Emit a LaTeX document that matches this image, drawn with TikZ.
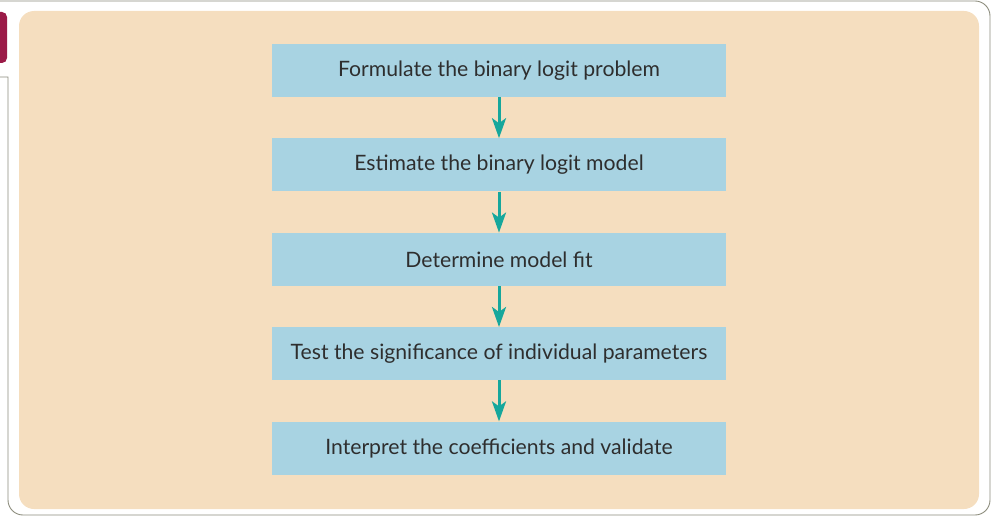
\documentclass[tikz,border=0pt]{standalone}
\usepackage{fontspec}
\setmainfont{Lato}
\usepackage{tikz}
\usetikzlibrary{arrows.meta,positioning}
\usepackage{xcolor}
\definecolor{panel}{HTML}{F5DEBF}
\definecolor{boxblue}{HTML}{A8D3E2}
\definecolor{flowteal}{HTML}{16A79C}
\definecolor{tabred}{HTML}{9B1B48}
\definecolor{framegray}{HTML}{8C8C7C}
\definecolor{inkdark}{HTML}{2E2E2E}

\begin{document}
\begin{tikzpicture}[x=1pt,y=-1pt,>={Stealth[length=20pt,width=14pt,inset=5pt]},
    node distance=41pt,
    stage/.style={fill=boxblue,minimum width=454pt,minimum height=53pt,inner sep=0pt,
      text=inkdark,font=\fontsize{21.2}{25}\selectfont},
    flow/.style={->,draw=flowteal,fill=flowteal,line width=3pt}]
      \useasboundingbox (0,0) rectangle (992,516);
      % outer frame and tab
      \draw[framegray,line width=0.9pt,rounded corners=15pt] (0,1) -- (990,1) -- (990,515) -- (8,515) [sharp corners] -- (8,77) -- (0,77);
      \fill[tabred,rounded corners=5pt] (-8,12) rectangle (7,63);
      \fill[panel,rounded corners=15pt] (19,11) rectangle (979,509);
      % steps
      \node[stage] (formulate) at (499,70.5) {Formulate the binary logit problem};
      \node[stage,below=of formulate] (estimate) {Estimate the binary logit model};
      \node[stage,below=of estimate] (fit) {Determine model fit};
      \node[stage,below=of fit] (signif) {Test the significance of individual parameters};
      \node[stage,below=of signif] (interpret) {Interpret the coefficients and validate};
      \draw[flow] (formulate) -- (estimate);
      \draw[flow] (estimate) -- (fit);
      \draw[flow] (fit) -- (signif);
      \draw[flow] (signif) -- (interpret);
    \end{tikzpicture}
\end{document}
